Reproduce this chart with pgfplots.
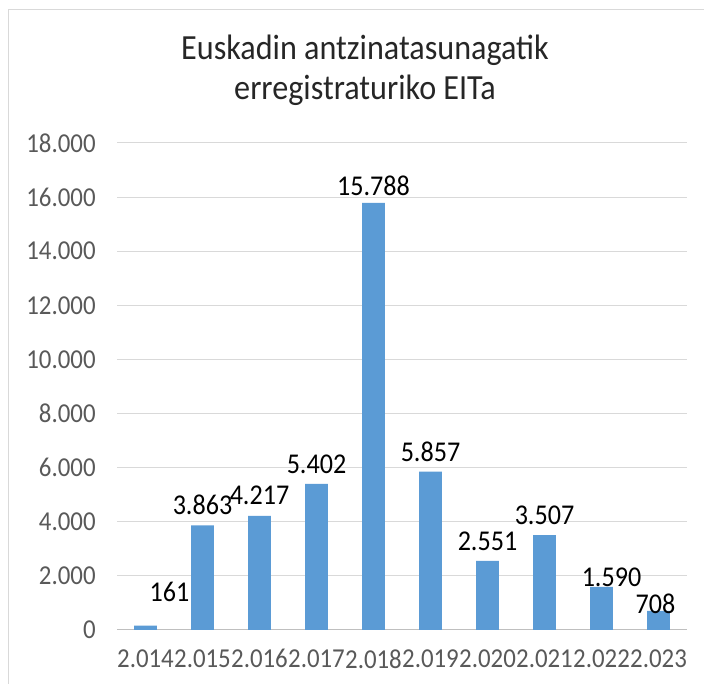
\documentclass[border=0pt]{standalone}
\usepackage{pgfplots}
\usepackage{pgfplotstable}
\pgfplotsset{compat=1.18}
\usepackage{fontspec}
\setmainfont{Carlito}[FakeStretch=0.91]
\definecolor{barblue}{HTML}{5B9BD5}
\definecolor{ticktxt}{HTML}{595959}
\definecolor{gridc}{HTML}{D9D9D9}
\definecolor{axc}{HTML}{BFBFBF}
\definecolor{framec}{HTML}{D9D9D9}
\definecolor{titlec}{HTML}{262626}
\pgfplotstableread{
x y dx dy
1 161 18 25.5
2 3863 0 15.5
3 4217 0 15.5
4 5402 0 15
5 15788 0 12.5
6 5857 0 15
7 2551 0 15
8 3507 0 15
9 1590 7.5 7.5
10 708 -2.25 5.25
}\datatable
\begin{document}
\begin{tikzpicture}
\useasboundingbox (0,0) rectangle (528pt,513pt);
\draw[framec, line width=0.75pt] (6pt,-10pt) -- (6pt,505.5pt) -- (540pt,505.5pt);
\node[align=center, text=titlec, font=\fontsize{26.5}{30}\selectfont] at (273.75pt,460.5pt) {Euskadin antzinatasunagatik\\erregistraturiko EITa};
\begin{axis}[
  at={(87.75pt,40.5pt)}, anchor=south west,
  scale only axis, width=427.5pt, height=365.25pt,
  xmin=0.5, xmax=10.5, ymin=0, ymax=18000,
  ytick={0,2000,...,18000},
  scaled y ticks=false,
  /pgf/number format/1000 sep={.},
  /pgf/number format/fixed,
  /pgf/number format/precision=0,
  /pgf/number format/assume math mode=true,
  yticklabel style={text=ticktxt, font=\fontsize{20.5}{24}\selectfont, xshift=-12.5pt},
  xtick={1,...,10},
  xticklabels={2.014,2.015,2.016,2.017,2.018,2.019,2.020,2.021,2.022,2.023},
  xticklabel style={text=ticktxt, font=\fontsize{20.5}{24}\selectfont, yshift=-11pt},
  major tick length=0pt,
  extra x ticks={0.5,1.5,...,10.5},
  extra x tick labels={},
  extra x tick style={grid=none, major tick length=4.5pt, tick align=outside, tick style={axc, line width=0.75pt}},
  axis x line*=bottom, axis y line*=left,
  x axis line style={axc, line width=0.75pt, -},
  y axis line style={draw=none},
  ymajorgrids, grid style={gridc, line width=0.75pt},
  tick style={draw=none},
  clip=false,
]
\addplot[ybar, bar width=17pt, fill=barblue, draw=none,
  point meta=explicit,
  visualization depends on={\thisrow{dx} \as \dx},
  visualization depends on={\thisrow{dy} \as \dy},
  nodes near coords={\pgfmathprintnumber{\pgfplotspointmeta}},
  every node near coord/.append style={anchor=center, xshift=\dx pt, yshift=\dy pt, text=black, font=\fontsize{21.5}{25}\selectfont},
] table[x=x, y=y, meta=y] {\datatable};
\end{axis}
\end{tikzpicture}
\end{document}
